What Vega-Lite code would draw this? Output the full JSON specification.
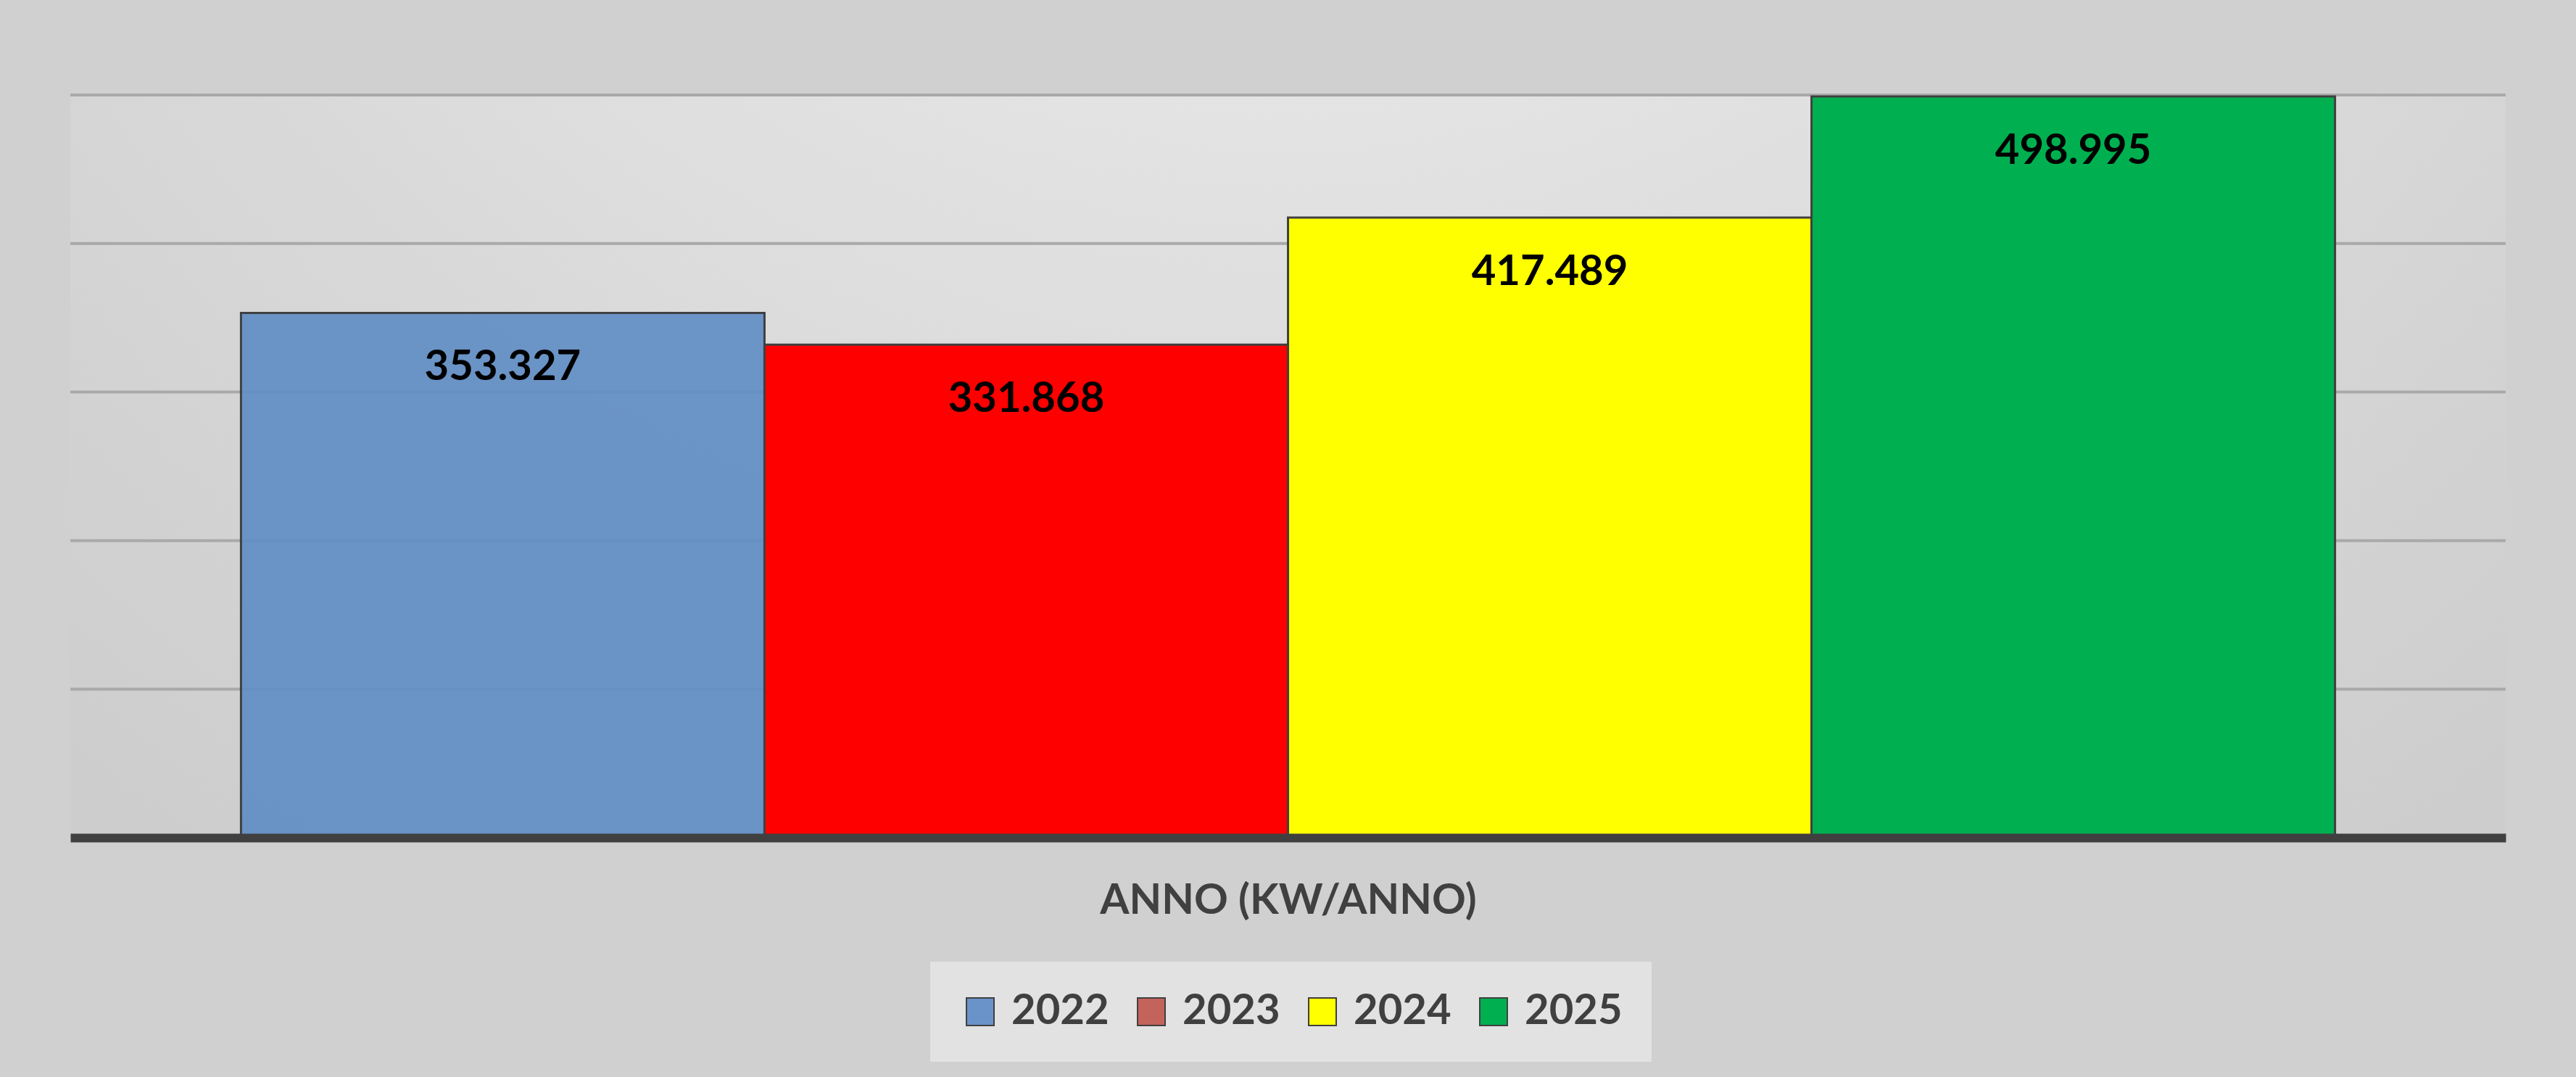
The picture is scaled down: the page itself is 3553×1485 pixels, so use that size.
{
  "$schema": "https://vega.github.io/schema/vega-lite/v6.json",
  "width": 3359,
  "height": 1024,
  "autosize": {"type": "none"},
  "padding": {"left": 97, "top": 131, "right": 97, "bottom": 330},
  "background": "#d0d0d0",
  "config": {"font": "Lato", "view": {"stroke": null}},
  "datasets": {
    "kw": [
      {"anno": "2022", "kw": 353.327},
      {"anno": "2023", "kw": 331.868},
      {"anno": "2024", "kw": 417.489},
      {"anno": "2025", "kw": 498.995}
    ],
    "sfondo": [{"parte": "area"}],
    "griglia": [{"livello": 100}, {"livello": 200}, {"livello": 300}, {"livello": 400}, {"livello": 500}]
  },
  "data": {"name": "kw"},
  "layer": [
    {
      "data": {"name": "sfondo"},
      "mark": {
        "type": "rect",
        "fill": {
          "gradient": "radial",
          "x1": 0.5, "y1": 0, "r1": 0,
          "x2": 0.5, "y2": 0, "r2": 0.8,
          "stops": [
            {"offset": 0, "color": "#fbfbfb"},
            {"offset": 0.2, "color": "#f1f1f1"},
            {"offset": 0.45, "color": "#e3e3e3"},
            {"offset": 0.7, "color": "#d8d8d8"},
            {"offset": 1, "color": "#cdcdcd"}
          ]
        }
      },
      "encoding": {}
    },
    {
      "data": {"name": "griglia"},
      "mark": {"type": "rule", "color": "#a9a9a9", "strokeWidth": 4},
      "encoding": {
        "y": {"field": "livello", "type": "quantitative", "scale": {"domain": [0, 500], "nice": false}, "axis": null}
      }
    },
    {
      "mark": {"type": "bar", "stroke": "#404040", "strokeWidth": 3},
      "encoding": {
        "x": {
          "field": "anno", "type": "nominal",
          "scale": {"paddingInner": 0, "paddingOuter": 0.326},
          "axis": {
            "labels": false, "ticks": false, "zindex": 1,
            "domainColor": "#404040", "domainWidth": 12,
            "title": "ANNO (KW/ANNO)", "titleFont": "Lato", "titleFontSize": 58,
            "titleFontWeight": "bold", "titleColor": "#404040", "titlePadding": 58
          }
        },
        "y": {
          "field": "kw", "type": "quantitative",
          "scale": {"domain": [0, 500], "nice": false},
          "axis": null
        },
        "fill": {
          "field": "anno", "type": "nominal",
          "scale": {"domain": ["2022", "2023", "2024", "2025"], "range": ["#5e8cc4", "#ff0000", "#ffff00", "#00b050"]},
          "legend": null
        },
        "fillOpacity": {"condition": {"test": "datum.anno === '2022'", "value": 0.9}, "value": 1}
      }
    },
    {
      "mark": {"type": "text", "font": "Lato", "fontSize": 58, "fontWeight": "bold", "color": "#000000", "baseline": "middle", "dy": 76},
      "encoding": {
        "x": {"field": "anno", "type": "nominal"},
        "y": {"field": "kw", "type": "quantitative", "axis": null},
        "text": {"field": "kw", "type": "quantitative", "format": ".3f"}
      }
    },
    {
      "mark": {"type": "square", "opacity": 0},
      "encoding": {
        "fill": {
          "field": "anno", "type": "nominal",
          "scale": {"domain": ["2022", "2023", "2024", "2025"], "range": ["#6a93c9", "#c4625c", "#ffff00", "#00b050"]},
          "legend": {
            "orient": "none", "legendX": 1186, "legendY": 1195,
            "direction": "horizontal", "columns": 4, "title": null,
            "symbolType": "square", "symbolSize": 1444,
            "symbolStrokeColor": "#404040", "symbolStrokeWidth": 2, "symbolOpacity": 1,
            "labelFont": "Lato", "labelFontSize": 58, "labelFontWeight": "bold",
            "labelColor": "#404040", "labelOffset": 14, "columnPadding": 29,
            "padding": 40, "fillColor": "#e2e2e2"
          }
        }
      }
    }
  ],
  "resolve": {"scale": {"fill": "independent"}}
}
